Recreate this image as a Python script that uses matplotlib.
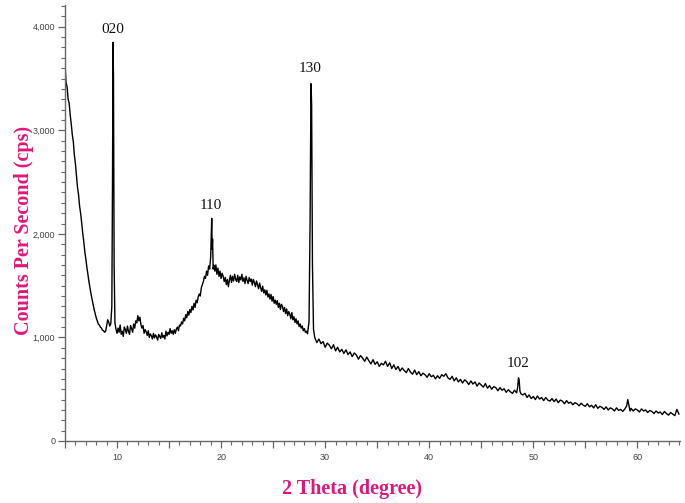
import numpy as np
import matplotlib
matplotlib.use("Agg")
import matplotlib.pyplot as plt
from matplotlib.ticker import MultipleLocator, FuncFormatter

# ---- data (2 theta in degrees, counts per second) ----
# steep low-angle region + 020 reflection
theta_a = [5.0, 5.1, 5.2, 5.3, 5.4, 5.5, 5.6, 5.7, 5.8, 5.9, 6.0, 6.1, 6.2, 6.3, 6.4,
           6.5, 6.6, 6.7, 6.8, 6.9, 7.0, 7.1, 7.2, 7.3, 7.4, 7.5, 7.6, 7.7, 7.8, 7.9,
           8.0, 8.1, 8.2, 8.3, 8.4, 8.5, 8.6, 8.7, 8.8, 8.9, 9.0, 9.1, 9.2, 9.3, 9.4,
           9.5, 9.56, 9.62, 9.66, 9.72, 9.8, 9.9, 10.0]
counts_a = [3650, 3460, 3420, 3300, 3260, 3150, 3060, 2960, 2890, 2760,
            2680, 2560, 2450, 2380, 2270, 2200, 2110, 2010, 1930, 1830,
            1760, 1680, 1610, 1540, 1480, 1420, 1370, 1320, 1270, 1230,
            1190, 1160, 1130, 1120, 1100, 1090, 1070, 1065, 1050, 1060,
            1110, 1170, 1150, 1110, 1130, 1300,
            2400, 3850, 3500, 1700, 1140, 1080, 1040]

# 10.1 - 19.0 deg (step 0.1)
counts_b = [1090, 1050, 1120, 1030, 1060, 1010, 1100, 1075, 1040, 1110,
            1060, 1030, 1115, 1085, 1050, 1130, 1090, 1160, 1140, 1210,
            1160, 1195, 1120, 1090, 1115, 1040, 1075, 1055, 1020, 1065,
            1000, 1035, 1015, 985, 1040, 995, 1025, 1005, 975, 1030,
            1010, 990, 1045, 1000, 1020, 985, 1060, 1015, 1050, 1030,
            1085, 1040, 1065, 1030, 1075, 1040, 1080, 1100, 1065, 1120,
            1110, 1150, 1130, 1185, 1160, 1220, 1190, 1250, 1215, 1270,
            1240, 1300, 1265, 1330, 1290, 1360, 1335, 1390, 1420, 1400,
            1480, 1510, 1540, 1590, 1570, 1640, 1600, 1690, 1660, 1780]
range_b = (10.1, 19.0)

# 110 reflection
theta_p110 = [19.06, 19.1, 19.14, 19.18, 19.24, 19.3]
counts_p110 = [2000, 2150, 1850, 1950, 1660, 1700]

# 19.4 - 28.3 deg (step 0.1), amorphous hump
counts_c = [1640, 1700, 1610, 1670, 1590, 1640, 1570, 1620, 1590, 1540,
            1580, 1510, 1560, 1490, 1555, 1600, 1530, 1590, 1545, 1610,
            1560, 1540, 1600, 1530, 1585, 1555, 1610, 1540, 1575, 1520,
            1590, 1550, 1520, 1580, 1540, 1565, 1505, 1560, 1530, 1490,
            1545, 1510, 1470, 1525, 1480, 1445, 1495, 1430, 1460, 1410,
            1455, 1390, 1420, 1370, 1415, 1350, 1395, 1330, 1360, 1320,
            1355, 1290, 1330, 1270, 1320, 1300, 1250, 1290, 1230, 1275,
            1210, 1250, 1225, 1180, 1240, 1170, 1200, 1145, 1180, 1130,
            1160, 1105, 1130, 1090, 1110, 1065, 1085, 1050, 1060, 1035]
range_c = (19.4, 28.3)

# 130 reflection
theta_p130 = [28.45, 28.55, 28.64, 28.7, 28.78, 28.88]
counts_p130 = [1150, 2100, 3450, 3250, 1700, 1080]

# 29.0 - 48.4 deg (step 0.2)
counts_d = [1000, 950, 985, 940, 960, 905, 945, 925, 890, 930,
            870, 905, 860, 885, 845, 880, 835, 860, 815, 850,
            830, 790, 825, 800, 770, 810, 775, 745, 785, 740,
            765, 720, 750, 735, 770, 720, 755, 700, 735, 690,
            720, 675, 705, 680, 660, 700, 665, 645, 685, 640,
            670, 630, 655, 640, 615, 650, 620, 635, 600, 630,
            605, 640, 625, 650, 610, 595, 625, 580, 610, 570,
            595, 560, 590, 575, 545, 580, 550, 570, 530, 560,
            540, 520, 555, 510, 535, 500, 525, 515, 485, 515,
            490, 505, 470, 495, 475, 460, 490, 465]
range_d = (29.0, 48.4)

# 102 reflection
theta_p102 = [48.5, 48.58, 48.64, 48.72, 48.82]
counts_p102 = [520, 610, 590, 480, 455]

# 49.0 - 58.8 deg (step 0.2)
counts_e = [445, 460, 420, 445, 410, 430, 400, 435, 405, 420,
            390, 420, 395, 385, 410, 380, 405, 370, 395, 385,
            360, 390, 365, 375, 350, 370, 360, 340, 365, 345,
            335, 360, 330, 345, 320, 350, 315, 335, 325, 305,
            330, 300, 320, 310, 290, 320, 295, 305, 285, 310]
range_e = (49.0, 58.8)

# small reflection near 59 deg
theta_p59 = [58.98, 59.08, 59.18, 59.3]
counts_p59 = [340, 400, 350, 290]

# 59.4 - 64.0 deg (step 0.2)
counts_f = [315, 290, 310, 300, 280, 310, 290, 300, 275, 295,
            285, 265, 290, 270, 280, 255, 285, 265, 250, 275,
            260, 245, 305, 260]
range_f = (59.4, 64.0)

peak_labels = ["020", "110", "130", "102"]
peak_label_theta = [9.64, 19.0, 28.6, 48.5]
peak_label_counts = [3971, 2270, 3594, 744]

# ---- assemble the trace ----
def grid(rng, vals):
    return list(np.linspace(rng[0], rng[1], len(vals)))

two_theta = (theta_a + grid(range_b, counts_b) + theta_p110 + grid(range_c, counts_c)
             + theta_p130 + grid(range_d, counts_d) + theta_p102 + grid(range_e, counts_e)
             + theta_p59 + grid(range_f, counts_f))
counts = (counts_a + counts_b + counts_p110 + counts_c + counts_p130 + counts_d
          + counts_p102 + counts_e + counts_p59 + counts_f)

# ---- figure ----
fig = plt.figure(figsize=(6.85, 5.03), dpi=100)
ax = fig.add_axes([65 / 685, 1 - 441 / 503, 615 / 685, 436 / 503])

ax.plot(two_theta, counts, color="black", lw=1.0)

ax.set_xlim(5, 64.1)
ax.set_ylim(0, 4210)

for s in ("top", "right"):
    ax.spines[s].set_visible(False)
for s in ("left", "bottom"):
    ax.spines[s].set_color("#666666")
    ax.spines[s].set_linewidth(1.0)

ax.xaxis.set_major_locator(MultipleLocator(5))
ax.xaxis.set_minor_locator(MultipleLocator(1))
ax.xaxis.set_major_formatter(FuncFormatter(lambda v, p: f"{int(round(v))}" if round(v) % 10 == 0 else ""))
ax.yaxis.set_major_locator(MultipleLocator(1000))
ax.yaxis.set_minor_locator(MultipleLocator(100))
ax.yaxis.set_major_formatter(FuncFormatter(lambda v, p: f"{int(round(v)):,}"))

ax.tick_params(axis="both", which="major", length=5, width=0.9, color="#666666",
               labelsize=6.5, labelcolor="#444444", direction="out")
ax.tick_params(axis="both", which="minor", length=3, width=0.8, color="#666666", direction="out")
ax.tick_params(axis="x", which="major", pad=4)
ax.tick_params(axis="y", which="major", pad=2)
for lab in ax.get_xticklabels() + ax.get_yticklabels():
    lab.set_family("Liberation Sans")

label_color = "#E0177A"
fig.text(352 / 685, 1 - 489 / 503, "2 Theta (degree)", ha="center", va="center",
         family="Liberation Serif", fontweight="bold", fontsize=14.5, color=label_color)
fig.text(24 / 685, 1 - 230 / 503, "Counts Per Second (cps)", ha="center", va="center",
         rotation=90, family="Liberation Serif", fontweight="bold", fontsize=14.5,
         color=label_color)

for lab, tx, ty in zip(peak_labels, peak_label_theta, peak_label_counts):
    ax.text(tx, ty, lab, ha="center", va="center", family="Liberation Serif",
            fontsize=11, color="#111111")

fig.savefig("out.png", dpi=100)
